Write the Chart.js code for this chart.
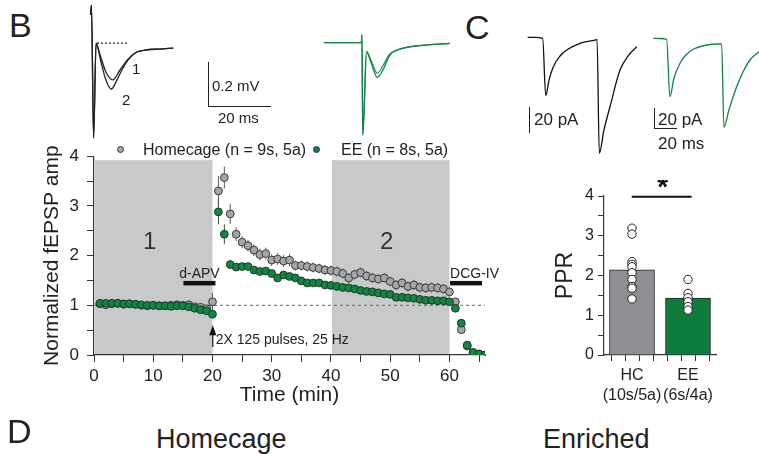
<!DOCTYPE html>
<html>
<head>
<meta charset="utf-8">
<script src="https://cdn.jsdelivr.net/npm/chart.js@4.4.1/dist/chart.umd.min.js"></script>
<style>
  body { margin: 0; background: #fff; }
  #fig { position: relative; width: 759px; height: 454px; overflow: hidden;
         font-family: 'Liberation Sans', Arial, sans-serif; color: #222; }
  #fig canvas, .txt, .sbar, .dot { position: absolute; }
  .txt { white-space: nowrap; line-height: 1; }
  .sbar { border-color: #222; border-style: solid; border-width: 0; }
  .dot { width: 7px; height: 7px; border-radius: 50%; box-sizing: border-box; border: 1px solid #333; }
</style>
</head>
<body>
<div id="fig">
  <canvas id="traceB1" width="95" height="142" style="left:85px;top:0"></canvas>
  <canvas id="traceB2" width="138" height="142" style="left:318px;top:0"></canvas>
  <canvas id="traceC1" width="120" height="130" style="left:522px;top:30px"></canvas>
  <canvas id="traceC2" width="111" height="105" style="left:648px;top:30px"></canvas>
  <canvas id="ltp" width="500" height="282" style="left:0;top:138px"></canvas>
  <canvas id="ppr" width="219" height="230" style="left:540px;top:180px"></canvas>

  <div class="txt" style="left:9px;top:8px;font-size:34px">B</div>
  <div class="txt" style="left:465px;top:10px;font-size:34px">C</div>
  <div class="txt" style="left:7px;top:414px;font-size:34px">D</div>
  <div class="txt" style="left:156px;top:426px;font-size:27px">Homecage</div>
  <div class="txt" style="left:543px;top:426px;font-size:27px">Enriched</div>

  <div class="txt" style="left:132px;top:61px;font-size:15px">1</div>
  <div class="txt" style="left:122px;top:92px;font-size:15px">2</div>
  <div class="sbar" style="left:208px;top:62px;width:62px;height:44px;border-left-width:1px;border-bottom-width:1px"></div>
  <div class="txt" style="left:212px;top:78px;font-size:15px">0.2 mV</div>
  <div class="txt" style="left:218px;top:110px;font-size:15px">20 ms</div>

  <div class="sbar" style="left:529px;top:107px;width:0;height:26px;border-left-width:1px"></div>
  <div class="txt" style="left:534px;top:111px;font-size:17px">20 pA</div>
  <div class="sbar" style="left:654px;top:108px;width:22px;height:20px;border-left-width:1px;border-bottom-width:1px"></div>
  <div class="txt" style="left:658px;top:111px;font-size:17px">20 pA</div>
  <div class="txt" style="left:658px;top:135px;font-size:17px">20 ms</div>

  <div class="dot" style="left:117px;top:146px;background:#a4a5a8"></div>
  <div class="txt" style="left:143px;top:142px;font-size:16px">Homecage (n = 9s, 5a)</div>
  <div class="dot" style="left:313px;top:146px;background:#138444"></div>
  <div class="txt" style="left:341px;top:142px;font-size:16px">EE (n = 8s, 5a)</div>
</div>

<script>
// ---- LTP time course (normalized fEPSP amplitude) ----
const minutes = [1, 2, 3, 4, 5, 6, 7, 8, 9, 10, 11, 12, 13, 14, 15, 16, 17, 18, 19, 20,
  21, 22, 23, 24, 25, 26, 27, 28, 29, 30, 31, 32, 33, 34, 35, 36, 37, 38, 39, 40,
  41, 42, 43, 44, 45, 46, 47, 48, 49, 50, 51, 52, 53, 54, 55, 56, 57, 58, 59, 60,
  61, 62, 63, 64, 65, 66];
const homecageAmp = [1.03, 1.01, 1.03, 1.04, 1.02, 1.03, 1.02, 1.00, 0.99, 1.00, 0.99, 0.99, 1.00, 1.01, 1.00, 1.01, 0.97, 0.96, 0.93, 1.07,
  3.30, 3.57, 2.84, 2.43, 2.27, 2.20, 2.11, 2.02, 2.04, 1.91, 1.93, 1.89, 1.91, 1.80, 1.80, 1.78, 1.76, 1.74, 1.71, 1.70,
  1.68, 1.64, 1.55, 1.62, 1.66, 1.59, 1.55, 1.53, 1.55, 1.48, 1.41, 1.45, 1.38, 1.41, 1.36, 1.35, 1.36, 1.35, 1.33, 1.27,
  1.07, 0.51, 0.18, 0.05, 0.02, 0.00];
const homecageErr = [0.03, 0.03, 0.03, 0.03, 0.03, 0.03, 0.03, 0.03, 0.03, 0.03, 0.03, 0.03, 0.03, 0.03, 0.03, 0.03, 0.03, 0.03, 0.03, 0.18,
  0.30, 0.22, 0.20, 0.14, 0.12, 0.12, 0.12, 0.12, 0.12, 0.12, 0.12, 0.12, 0.12, 0.10, 0.10, 0.10, 0.10, 0.10, 0.10, 0.10,
  0.10, 0.10, 0.10, 0.10, 0.10, 0.10, 0.10, 0.10, 0.10, 0.10, 0.10, 0.10, 0.10, 0.10, 0.10, 0.10, 0.10, 0.10, 0.10, 0.10,
  0.05, 0.08, 0.03, 0.02, 0.02, 0.02];
const enrichedAmp = [1.04, 1.04, 1.04, 1.04, 1.03, 1.03, 1.02, 1.01, 1.00, 1.00, 0.99, 0.99, 0.98, 0.99, 0.99, 0.97, 0.94, 0.91, 0.89, 0.82,
  2.88, 2.43, 1.82, 1.77, 1.78, 1.78, 1.71, 1.68, 1.69, 1.64, 1.55, 1.61, 1.58, 1.55, 1.49, 1.45, 1.45, 1.45, 1.41, 1.40,
  1.38, 1.36, 1.35, 1.33, 1.30, 1.28, 1.27, 1.25, 1.23, 1.22, 1.16, 1.16, 1.15, 1.14, 1.12, 1.10, 1.10, 1.09, 1.09, 1.07,
  0.94, 0.64, 0.20, 0.05, 0.02, 0.00];
const enrichedErr = [0.02, 0.02, 0.02, 0.02, 0.02, 0.02, 0.02, 0.02, 0.02, 0.02, 0.02, 0.02, 0.02, 0.02, 0.02, 0.02, 0.02, 0.02, 0.02, 0.05,
  0.25, 0.20, 0.09, 0.06, 0.06, 0.06, 0.06, 0.06, 0.06, 0.06, 0.05, 0.05, 0.05, 0.05, 0.05, 0.05, 0.05, 0.05, 0.05, 0.05,
  0.04, 0.04, 0.04, 0.04, 0.04, 0.04, 0.04, 0.04, 0.04, 0.04, 0.04, 0.04, 0.04, 0.04, 0.04, 0.04, 0.04, 0.04, 0.04, 0.04,
  0.04, 0.05, 0.03, 0.02, 0.02, 0.02];
const shadedPeriods = [[0, 20], [40, 60]];
const periodLabels = ['1', '2'];

// ---- paired-pulse ratio ----
const pprGroups = ['HC', 'EE'];
const pprGroupN = ['(10s/5a)', '(6s/4a)'];
const pprMeans = [2.14, 1.43];
const pprHC = [3.19, 3.04, 2.35, 2.28, 2.22, 2.07, 1.90, 1.72, 1.68, 1.41];
const pprEE = [1.90, 1.55, 1.44, 1.34, 1.22, 1.13];

// ---- example traces (time in ms, fEPSP in mV / EPSC in pA) ----
const hcTrace1T = [-0.8, -0.5, 0.2, 1.0, 2.3, 4.2, 6.4, 8.8, 11.1, 13.7, 16.9, 21.8, 26.1];
const hcTrace1V = [0.127, 0.172, -0.43, 0.0, -0.054, -0.131, -0.167, -0.122, -0.077, -0.045, -0.032, -0.027, -0.023];
const hcTrace2T = [-0.8, -0.5, 0.2, 1.0, 2.6, 4.2, 6.0, 7.5, 9.4, 11.4, 13.7, 16.9, 21.8, 26.1];
const hcTrace2V = [0.127, 0.172, -0.43, 0.0, -0.086, -0.167, -0.208, -0.176, -0.122, -0.077, -0.045, -0.032, -0.027, -0.023];
const eeTraceT = [-12.5, -1.8, -0.3, -0.1, 0.16, 1.4, 2.8, 4.9, 6.7, 9.0, 12.3, 17.2, 28.5];
const eeTrace1V = [0, 0, 0, 0.035, -0.418, -0.041, -0.087, -0.157, -0.124, -0.056, -0.029, -0.015, -0.003];
const eeTrace2V = [0, 0, 0, 0.035, -0.418, -0.041, -0.078, -0.138, -0.105, -0.050, -0.029, -0.015, -0.003];
const hcEpscT = [-13.5, -7, -0.3, 2.4, 5.3, 9.1, 15, 20.9, 32.6, 45.8, 47.6, 49.6, 53.7, 59, 67.8, 74.9, 82.6];
const hcEpscI = [0.5, 0.4, -0.2, -43.2, -31.5, -21.5, -13.5, -9, -4, -1.5, -1.1, -86.4, -68.9, -51.5, -24, -13.5, -6.5];
const eeEpscT = [-12.1, -6.2, -0.3, 2.6, 6.2, 11.5, 16.7, 23.2, 35, 44.9, 48.2, 50.2, 54.6, 61.4, 67, 73.1, 81];
const eeEpscI = [0.7, 0.5, -0.3, -57.7, -39, -24.3, -16, -10.3, -6, -5, -5, -88.3, -71, -47.7, -33, -21, -12.7];

const GRAY = '#a4a5a8';
const GREEN = '#138444';
const FONT = "'Liberation Sans', Arial, sans-serif";
Chart.defaults.font.family = FONT;
Chart.defaults.color = '#222';

const pts = (xs, ys) => xs.map((x, i) => ({x: x, y: ys[i]}));

// small helper for the sweep pictures: axes hidden, chart area = whole canvas
function traceChart(id, sets, xRange, yRange) {
    return new Chart(document.getElementById(id), {
        type: 'scatter',
        data: {
            datasets: sets.map(s => ({
                data: s.data, showLine: true, pointRadius: 0, borderColor: s.color,
                borderWidth: 1.3, borderDash: s.dash || [], cubicInterpolationMode: 'monotone'
            }))
        },
        options: {
            responsive: false, animation: false,
            layout: {padding: 0},
            plugins: {legend: {display: false}, tooltip: {enabled: false}},
            scales: {
                x: {type: 'linear', display: false, min: xRange[0], max: xRange[1]},
                y: {type: 'linear', display: false, min: yRange[0], max: yRange[1]}
            }
        }
    });
}

traceChart('traceB1', [
    {data: pts(hcTrace1T, hcTrace1V), color: '#222'},
    {data: pts(hcTrace2T, hcTrace2V), color: '#222'},
    {data: pts([1.3, 11.1], [0, 0]), color: '#222', dash: [2, 2]}
], [-2.6, 28.3], [-0.448, 0.195]);

traceChart('traceB2', [
    {data: pts(eeTraceT, eeTrace1V), color: GREEN},
    {data: pts(eeTraceT, eeTrace2V), color: '#2a9a55'}
], [-14.4, 30.5], [-0.449, 0.193]);

traceChart('traceC1', [
    {data: pts(hcEpscT, hcEpscI), color: '#111'}
], [-18.5, 87.2], [-91.4, 6.0]);

traceChart('traceC2', [
    {data: pts(eeEpscT, eeEpscI), color: GREEN}
], [-16.7, 81.1], [-96, 9]);

// shading, baseline, error bars and drug / stimulus annotations
const ltpDecor = {
    id: 'ltpDecor',
    beforeDraw(chart) {
        const {ctx, scales: {x, y}} = chart;
        ctx.save();
        ctx.fillStyle = '#c8c9cb';
        shadedPeriods.forEach(([a, b]) => {
            const x0 = x.getPixelForValue(a) + 1, x1 = x.getPixelForValue(b);
            const y0 = y.getPixelForValue(3.92), y1 = y.getPixelForValue(0);
            ctx.fillRect(x0, y0, x1 - x0, y1 - y0);
        });
        ctx.fillStyle = '#333';
        ctx.font = '24px ' + FONT;
        ctx.textAlign = 'center';
        ctx.textBaseline = 'middle';
        shadedPeriods.forEach(([a, b], i) => {
            ctx.fillText(periodLabels[i], x.getPixelForValue((a + b) / 2 - 0.6), y.getPixelForValue(2.27));
        });
        ctx.strokeStyle = '#666';
        ctx.lineWidth = 1;
        ctx.setLineDash([3, 3]);
        ctx.beginPath();
        ctx.moveTo(x.getPixelForValue(0), y.getPixelForValue(1));
        ctx.lineTo(x.getPixelForValue(66), y.getPixelForValue(1));
        ctx.stroke();
        ctx.restore();
    },
    beforeDatasetsDraw(chart) {
        const {ctx, scales: {y}} = chart;
        ctx.save();
        ctx.lineWidth = 1;
        chart.data.datasets.forEach((ds, i) => {
            ctx.strokeStyle = ds.errColor;
            chart.getDatasetMeta(i).data.forEach((p, j) => {
                const v = ds.data[j].y, e = ds.errors[j];
                ctx.beginPath();
                ctx.moveTo(p.x, y.getPixelForValue(v + e));
                ctx.lineTo(p.x, y.getPixelForValue(v - e));
                ctx.stroke();
            });
        });
        ctx.restore();
    },
    afterDatasetsDraw(chart) {
        const {ctx, scales: {x, y}} = chart;
        ctx.save();
        ctx.fillStyle = '#111';
        // drug application bars
        [[15.1, 20.5, 'd-APV', 'center'], [60.1, 65.5, 'DCG-IV', 'left']].forEach(([a, b, label, align]) => {
            const x0 = x.getPixelForValue(a), x1 = x.getPixelForValue(b);
            ctx.fillRect(x0, y.getPixelForValue(1.49), x1 - x0, y.getPixelForValue(1.40) - y.getPixelForValue(1.49));
            ctx.font = '14px ' + FONT;
            ctx.textAlign = align;
            ctx.textBaseline = 'alphabetic';
            ctx.fillStyle = '#222';
            ctx.fillText(label, align === 'center' ? (x0 + x1) / 2 : x0, y.getPixelForValue(1.54));
            ctx.fillStyle = '#111';
        });
        // stimulus arrow
        const ax = x.getPixelForValue(20.05);
        const tip = y.getPixelForValue(0.6), base = y.getPixelForValue(0.16);
        ctx.strokeStyle = '#111';
        ctx.lineWidth = 1.2;
        ctx.beginPath();
        ctx.moveTo(ax, tip + 6);
        ctx.lineTo(ax, base);
        ctx.stroke();
        ctx.beginPath();
        ctx.moveTo(ax, tip);
        ctx.lineTo(ax - 3.5, tip + 10);
        ctx.lineTo(ax + 3.5, tip + 10);
        ctx.closePath();
        ctx.fill();
        ctx.font = '14px ' + FONT;
        ctx.textAlign = 'left';
        ctx.textBaseline = 'middle';
        ctx.fillStyle = '#222';
        ctx.fillText('2X 125 pulses, 25 Hz', ax + 3, y.getPixelForValue(0.30));
        ctx.restore();
    }
};

new Chart(document.getElementById('ltp'), {
    type: 'scatter',
    data: {
        datasets: [
            {label: 'EE', data: pts(minutes, enrichedAmp), errors: enrichedErr, errColor: '#3a4a40',
             backgroundColor: GREEN, borderColor: '#1c3a27', borderWidth: 1, pointRadius: 3.9, order: 0},
            {label: 'Homecage', data: pts(minutes, homecageAmp), errors: homecageErr, errColor: '#555',
             backgroundColor: GRAY, borderColor: '#3a3a3a', borderWidth: 1, pointRadius: 3.9, order: 1}
        ]
    },
    options: {
        responsive: false, animation: false,
        layout: {padding: {left: 0, right: 15, top: 14, bottom: 0}},
        plugins: {legend: {display: false}, tooltip: {enabled: false}},
        scales: {
            x: {
                type: 'linear', min: 0, max: 66,
                ticks: {stepSize: 5, includeBounds: false, autoSkip: false, maxRotation: 0, padding: 4,
                        font: {size: 17}, callback: v => (v % 10 === 0 && v <= 60) ? v : ''},
                grid: {drawOnChartArea: false, tickLength: 7, color: '#333'},
                border: {color: '#333', width: 1.2},
                title: {display: true, text: 'Time (min)', font: {size: 21}, padding: {top: 0, bottom: 12}},
                afterFit: s => { s.height = 65; }
            },
            y: {
                min: 0, max: 4,
                ticks: {stepSize: 0.5, autoSkip: false, padding: 8, font: {size: 17},
                        callback: v => Number.isInteger(v) ? v : ''},
                grid: {drawOnChartArea: false, tickLength: 7, color: '#333'},
                border: {color: '#333', width: 1.2},
                title: {display: true, text: 'Normalized fEPSP amp', font: {size: 21}, padding: {top: 40, bottom: 0}},
                afterFit: s => { s.width = 94; }
            }
        }
    },
    plugins: [ltpDecor]
});

// significance bar above the PPR plot
const pprDecor = {
    id: 'pprDecor',
    afterDraw(chart) {
        const {ctx, scales: {x, y}} = chart;
        ctx.save();
        ctx.strokeStyle = '#111';
        ctx.lineWidth = 2;
        const ly = y.getPixelForValue(3.98);
        ctx.beginPath();
        ctx.moveTo(x.getPixelForValue(0.99), ly);
        ctx.lineTo(x.getPixelForValue(3.13), ly);
        ctx.stroke();
        ctx.fillStyle = '#111';
        ctx.font = 'bold 28px ' + FONT;
        ctx.textAlign = 'center';
        ctx.textBaseline = 'alphabetic';
        ctx.fillText('*', x.getPixelForValue(2.1), ly - 1);
        ctx.restore();
    }
};

new Chart(document.getElementById('ppr'), {
    data: {
        datasets: [
            {type: 'scatter', data: pts(pprHC.map(() => 1), pprHC).concat(pts(pprEE.map(() => 3), pprEE)),
             backgroundColor: '#fff', borderColor: '#222', borderWidth: 1, pointRadius: 4.2, order: 0},
            {type: 'bar', data: pts([1, 3], pprMeans), backgroundColor: [ '#8e8f92', '#0f7b3c' ],
             borderColor: '#222', borderWidth: 1, barThickness: 45, order: 1}
        ]
    },
    options: {
        responsive: false, animation: false,
        layout: {padding: {left: 0, right: 43, top: 16, bottom: 0}},
        plugins: {legend: {display: false}, tooltip: {enabled: false}},
        scales: {
            x: {
                type: 'linear', min: 0, max: 4, offset: false,
                ticks: {stepSize: 0.5, includeBounds: false, autoSkip: false, maxRotation: 0, padding: 5,
                        font: {size: 16, lineHeight: 1.25},
                        callback: v => v === 1 ? [pprGroups[0], pprGroupN[0]] : v === 3 ? [pprGroups[1], pprGroupN[1]] : ''},
                grid: {drawOnChartArea: false, tickLength: 6, color: '#333'},
                border: {color: '#333', width: 1.2},
                afterFit: s => { s.height = 55; }
            },
            y: {
                min: 0, max: 4,
                ticks: {stepSize: 0.5, autoSkip: false, padding: 4, font: {size: 16},
                        callback: v => Number.isInteger(v) ? v : ''},
                grid: {drawOnChartArea: false, tickLength: 6, color: '#333'},
                border: {color: '#333', width: 1.2},
                title: {display: true, text: 'PPR', font: {size: 23}, padding: {top: 12, bottom: 0}},
                afterFit: s => { s.width = 64; }
            }
        }
    },
    plugins: [pprDecor]
});
</script>
</body>
</html>
